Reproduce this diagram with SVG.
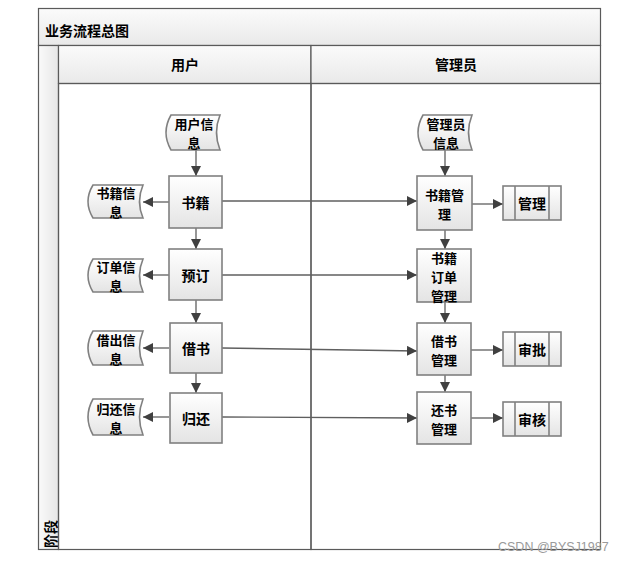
<svg xmlns="http://www.w3.org/2000/svg" width="628" height="561" viewBox="0 0 628 561">
<defs>
<linearGradient id="gv" x1="0" y1="0" x2="0" y2="1"><stop offset="0" stop-color="#ffffff"/><stop offset="1" stop-color="#e4e4e4"/></linearGradient>
<linearGradient id="gh" x1="0" y1="0" x2="0" y2="1"><stop offset="0" stop-color="#fbfbfb"/><stop offset="1" stop-color="#e9e9e9"/></linearGradient>
<linearGradient id="gs" x1="0" y1="0" x2="1" y2="0"><stop offset="0" stop-color="#fafafa"/><stop offset="1" stop-color="#e6e6e6"/></linearGradient>
<marker id="ar" viewBox="0 0 10 10" refX="10" refY="5" markerWidth="10" markerHeight="10" markerUnits="userSpaceOnUse" orient="auto"><path d="M0,0 L10,5 L0,10 Z" fill="#404040"/></marker>
<style>
.frame{fill:none;stroke:#5a5a5a;stroke-width:1.2}
.node{fill:url(#gv);stroke:#808080;stroke-width:1.6}
.t{font-family:"Noto Sans CJK SC","Liberation Sans",sans-serif;font-size:14px;font-weight:700;fill:#000;text-anchor:middle;dominant-baseline:central}
.m{font-size:13px}
.h{font-family:"Noto Sans CJK SC","Liberation Sans",sans-serif;font-size:14px;font-weight:700;fill:#000}
.c{fill:none;stroke:#5f5f5f;stroke-width:1.3;marker-end:url(#ar)}
.pp{stroke:#808080;stroke-width:1.6}
</style>
</defs>
<g id="pool">
<rect x="38.5" y="8.5" width="562" height="37" fill="url(#gh)" stroke="#5a5a5a" stroke-width="1.2"/>
<text class="h" x="45" y="30" dominant-baseline="central" text-anchor="start">业务流程总图</text>
<rect x="38.5" y="45.5" width="20" height="504" fill="url(#gs)" stroke="#5a5a5a" stroke-width="1.2"/>
<text class="h" transform="translate(50,534) rotate(-90)" text-anchor="middle" dominant-baseline="central">阶段</text>
<rect x="58.5" y="45.5" width="252.5" height="38" fill="url(#gh)" stroke="#5a5a5a" stroke-width="1.2"/>
<rect x="311" y="45.5" width="289.5" height="38" fill="url(#gh)" stroke="#5a5a5a" stroke-width="1.2"/>
<text class="h" x="185" y="64" text-anchor="middle" dominant-baseline="central">用户</text>
<text class="h" x="456" y="64" text-anchor="middle" dominant-baseline="central">管理员</text>
<rect class="frame" x="58.5" y="83.5" width="252.5" height="466"/>
<rect class="frame" x="311" y="83.5" width="289.5" height="466"/>
</g>
<g id="connectors">
<line class="c" x1="196" y1="150" x2="196" y2="176"/>
<line class="c" x1="196" y1="228" x2="196" y2="249"/>
<line class="c" x1="196" y1="300" x2="196" y2="323"/>
<line class="c" x1="196" y1="373" x2="196" y2="393"/>
<line class="c" x1="169" y1="202" x2="143" y2="202"/>
<line class="c" x1="169" y1="275" x2="143" y2="275"/>
<line class="c" x1="169" y1="348" x2="143" y2="348"/>
<line class="c" x1="169" y1="417" x2="143" y2="417"/>
<line class="c" x1="222" y1="201" x2="417" y2="201"/>
<line class="c" x1="222" y1="275" x2="417" y2="275"/>
<line class="c" x1="222" y1="348" x2="417" y2="351"/>
<line class="c" x1="222" y1="417" x2="417" y2="418"/>
<line class="c" x1="445" y1="150" x2="445" y2="176"/>
<line class="c" x1="445" y1="230" x2="445" y2="249"/>
<line class="c" x1="445" y1="302" x2="445" y2="323"/>
<line class="c" x1="445" y1="375" x2="445" y2="392"/>
<line class="c" x1="472" y1="204" x2="503" y2="204"/>
<line class="c" x1="471" y1="350" x2="503" y2="350"/>
<line class="c" x1="471" y1="418" x2="503" y2="418"/>
</g>
<g id="n_yhxx">
<path class="node" d="M171,115 L220,115 Q213,132.5 220,150 L171,150 Q161,132.5 171,115 Z"/>
<text class="t m"><tspan x="194" y="123">用户信</tspan><tspan x="194" y="142">息</tspan></text>
</g>
<g id="n_sj">
<rect class="node" x="169" y="176" width="53" height="52"/>
<text class="t" x="195.5" y="202">书籍</text>
</g>
<g id="n_sjxx">
<path class="node" d="M93,185 L143,185 Q136,201.5 143,218 L93,218 Q83,201.5 93,185 Z"/>
<text class="t m"><tspan x="116" y="192">书籍信</tspan><tspan x="116" y="211">息</tspan></text>
</g>
<g id="n_yd">
<rect class="node" x="169" y="249" width="53" height="51"/>
<text class="t" x="195.5" y="274.5">预订</text>
</g>
<g id="n_ddxx">
<path class="node" d="M93,259 L143,259 Q136,275.5 143,292 L93,292 Q83,275.5 93,259 Z"/>
<text class="t m"><tspan x="116" y="266">订单信</tspan><tspan x="116" y="285">息</tspan></text>
</g>
<g id="n_js">
<rect class="node" x="170" y="323" width="52" height="50"/>
<text class="t" x="196" y="348">借书</text>
</g>
<g id="n_jcxx">
<path class="node" d="M93,331 L143,331 Q136,348 143,365 L93,365 Q83,348 93,331 Z"/>
<text class="t m"><tspan x="116" y="338.5">借出信</tspan><tspan x="116" y="357.5">息</tspan></text>
</g>
<g id="n_gh">
<rect class="node" x="170" y="393" width="52" height="50"/>
<text class="t" x="196" y="418">归还</text>
</g>
<g id="n_ghxx">
<path class="node" d="M93,399 L143,399 Q136,417 143,435 L93,435 Q83,417 93,399 Z"/>
<text class="t m"><tspan x="116" y="407.5">归还信</tspan><tspan x="116" y="426.5">息</tspan></text>
</g>
<g id="n_glyxx">
<path class="node" d="M423,115 L472,115 Q465,132.5 472,150 L423,150 Q413,132.5 423,115 Z"/>
<text class="t m"><tspan x="446" y="123">管理员</tspan><tspan x="446" y="142">信息</tspan></text>
</g>
<g id="n_sjgl">
<rect class="node" x="417" y="176" width="55" height="54"/>
<text class="t m"><tspan x="444.5" y="193.5">书籍管</tspan><tspan x="444.5" y="212.5">理</tspan></text>
</g>
<g id="n_gl">
<rect class="node" x="503" y="186" width="58" height="34"/>
<line class="pp" x1="515" y1="186" x2="515" y2="220"/>
<line class="pp" x1="549" y1="186" x2="549" y2="220"/>
<text class="t" x="532" y="203">管理</text>
</g>
<g id="n_sjddgl">
<rect class="node" x="417" y="249" width="54" height="53"/>
<text class="t m"><tspan x="444" y="256.5">书籍</tspan><tspan x="444" y="275.5">订单</tspan><tspan x="444" y="294.5">管理</tspan></text>
</g>
<g id="n_jsgl">
<rect class="node" x="417" y="323" width="54" height="52"/>
<text class="t m"><tspan x="444" y="339.5">借书</tspan><tspan x="444" y="358.5">管理</tspan></text>
</g>
<g id="n_sp">
<rect class="node" x="503" y="332" width="58" height="34"/>
<line class="pp" x1="515" y1="332" x2="515" y2="366"/>
<line class="pp" x1="549" y1="332" x2="549" y2="366"/>
<text class="t" x="532" y="349">审批</text>
</g>
<g id="n_hsgl">
<rect class="node" x="417" y="392" width="54" height="52"/>
<text class="t m"><tspan x="444" y="408.5">还书</tspan><tspan x="444" y="427.5">管理</tspan></text>
</g>
<g id="n_sh">
<rect class="node" x="503" y="402" width="58" height="34"/>
<line class="pp" x1="515" y1="402" x2="515" y2="436"/>
<line class="pp" x1="549" y1="402" x2="549" y2="436"/>
<text class="t" x="532" y="419">审核</text>
</g>
<text x="498" y="551" font-family="Liberation Sans, sans-serif" font-size="12.5" fill="#9a9a9a">CSDN @BYSJ1987</text>
</svg>
